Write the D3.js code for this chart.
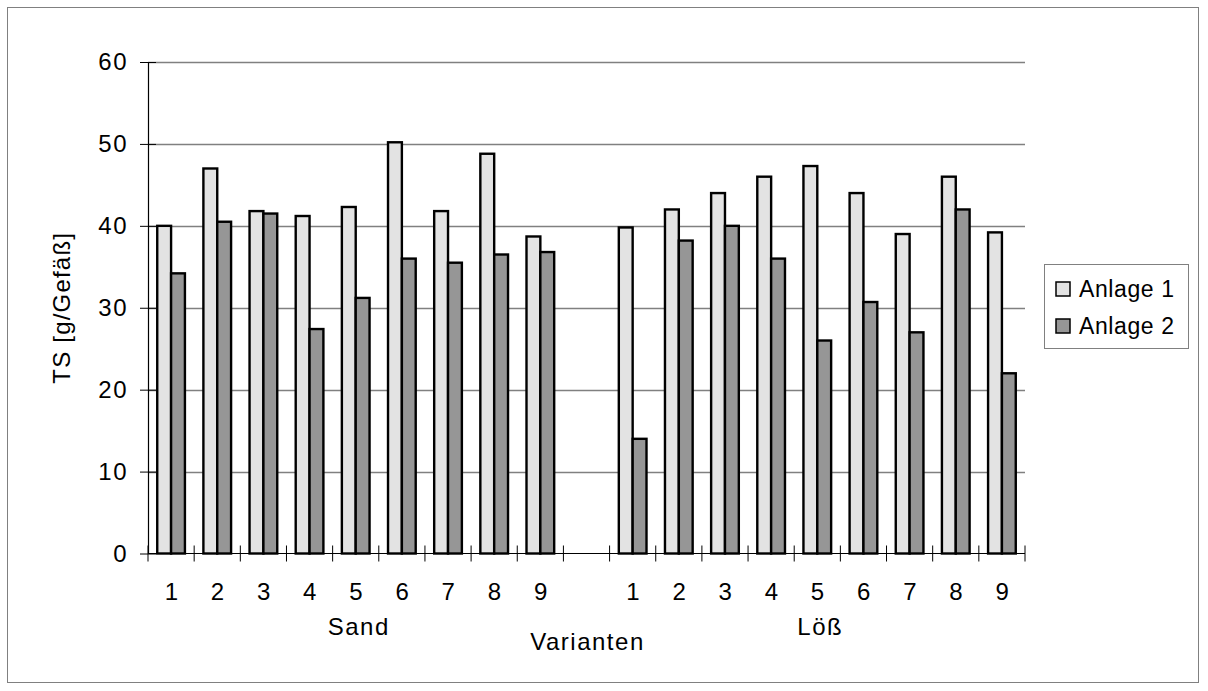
<!DOCTYPE html>
<html>
<head>
<meta charset="utf-8">
<script src="https://cdn.jsdelivr.net/npm/d3@7"></script>
<style>
  html, body { margin: 0; padding: 0; background: #fff; }
  svg text { font-family: "Liberation Sans", Arial, sans-serif; fill: #000; }
</style>
</head>
<body>
<svg id="chart" width="1208" height="691"></svg>
<script>
// Trockensubstanz je Gefäß, Varianten 1–9 auf Sand und Löß
const variants = ["1", "2", "3", "4", "5", "6", "7", "8", "9"];
const groups = ["Sand", "Löß"];
const seriesNames = ["Anlage 1", "Anlage 2"];
const sandAnlage1 = [40.0, 47.0, 41.8, 41.2, 42.3, 50.2, 41.8, 48.8, 38.7];
const sandAnlage2 = [34.2, 40.5, 41.5, 27.4, 31.2, 36.0, 35.5, 36.5, 36.8];
const loessAnlage1 = [39.8, 42.0, 44.0, 46.0, 47.3, 44.0, 39.0, 46.0, 39.2];
const loessAnlage2 = [14.0, 38.2, 40.0, 36.0, 26.0, 30.7, 27.0, 42.0, 22.0];
const yTicks = [0, 10, 20, 30, 40, 50, 60];
const yTitle = "TS [g/Gefäß]";
const xTitle = "Varianten";

const colors = { "Anlage 1": "#e3e3e3", "Anlage 2": "#969696" };
const FONT = 24;
const LS = "1.5px";

// Slot list: 9 Sand variants, an empty spacer slot, 9 Löß variants
const slots = [];
variants.forEach((v, i) => slots.push({ key: "S" + v, label: v, group: "Sand",
  values: [sandAnlage1[i], sandAnlage2[i]] }));
slots.push({ key: "gap", label: "", group: null, values: [] });
variants.forEach((v, i) => slots.push({ key: "L" + v, label: v, group: "Löß",
  values: [loessAnlage1[i], loessAnlage2[i]] }));

const svg = d3.select("#chart");
const plot = { left: 148, right: 1025, top: 62, bottom: 553.5 };

// Outer chart frame
svg.append("rect")
  .attr("x", 7.5).attr("y", 7.5).attr("width", 1191).attr("height", 675)
  .attr("fill", "#fff").attr("stroke", "#808080").attr("stroke-width", 1);

const x = d3.scaleBand().domain(slots.map(d => d.key))
  .range([plot.left, plot.right]).paddingInner(0).paddingOuter(0);
const xs = d3.scaleBand().domain(seriesNames)
  .range([0, x.bandwidth()]).paddingInner(0).paddingOuter(0.667);
const y = d3.scaleLinear().domain([0, 60]).range([plot.bottom, plot.top]);

// Horizontal gridlines
svg.append("g").selectAll("line").data(yTicks.filter(t => t > 0)).join("line")
  .attr("x1", plot.left).attr("x2", plot.right)
  .attr("y1", d => Math.round(y(d)) + 0.5).attr("y2", d => Math.round(y(d)) + 0.5)
  .attr("stroke", "#808080").attr("stroke-width", 1.3);

// Bars
const slotG = svg.append("g").selectAll("g").data(slots.filter(s => s.values.length)).join("g")
  .attr("transform", d => `translate(${x(d.key)},0)`);
slotG.selectAll("rect").data(d => d.values.map((v, i) => ({ name: seriesNames[i], value: v })))
  .join("rect")
  .attr("x", d => xs(d.name))
  .attr("width", xs.bandwidth())
  .attr("y", d => y(d.value))
  .attr("height", d => y(0) - y(d.value))
  .attr("fill", d => colors[d.name])
  .attr("stroke", "#000").attr("stroke-width", 2.4);

// Y axis (cross tick marks)
const yAxis = d3.axisLeft(y).tickValues(yTicks).tickSize(0).tickPadding(20);
const yg = svg.append("g").attr("transform", `translate(${plot.left},0)`).call(yAxis);
yg.select(".domain").attr("stroke", "#000").attr("stroke-width", 1.2);
yg.selectAll(".tick line").attr("x1", -8).attr("x2", 8).attr("stroke", "#000");
yg.selectAll(".tick text").attr("font-size", FONT).attr("font-family", null)
  .style("letter-spacing", LS);

// X axis: boundaries between slots carry cross tick marks
const boundaries = d3.range(slots.length + 1).map(i => plot.left + i * x.step());
const xg = svg.append("g");
xg.append("line").attr("x1", plot.left).attr("x2", plot.right)
  .attr("y1", plot.bottom).attr("y2", plot.bottom)
  .attr("stroke", "#000").attr("stroke-width", 1.2);
xg.selectAll("line.tk").data(boundaries).join("line").attr("class", "tk")
  .attr("x1", d => d).attr("x2", d => d)
  .attr("y1", plot.bottom - 8).attr("y2", plot.bottom + 8)
  .attr("stroke", "#000").attr("stroke-width", 1);
xg.selectAll("text.cat").data(slots.filter(s => s.label)).join("text").attr("class", "cat")
  .attr("x", d => x(d.key) + x.bandwidth() / 2 + 1)
  .attr("y", 592).attr("dy", "0.35em")
  .attr("text-anchor", "middle").attr("font-size", FONT)
  .style("letter-spacing", LS)
  .text(d => d.label);

// Group labels
groups.forEach(g => {
  const members = slots.filter(s => s.group === g);
  const cx = (x(members[0].key) + x(members[members.length - 1].key) + x.bandwidth()) / 2;
  svg.append("text").attr("x", cx + 3).attr("y", 627).attr("dy", "0.35em")
    .attr("text-anchor", "middle").attr("font-size", FONT).style("letter-spacing", LS)
    .text(g);
});

// Axis titles
svg.append("text").attr("x", (plot.left + plot.right) / 2 + 1).attr("y", 642).attr("dy", "0.35em")
  .attr("text-anchor", "middle").attr("font-size", FONT).style("letter-spacing", LS)
  .text(xTitle);
svg.append("text").attr("transform", `translate(62,${(plot.top + plot.bottom) / 2}) rotate(-90)`)
  .attr("dy", "0.35em").attr("text-anchor", "middle").attr("font-size", FONT)
  .style("letter-spacing", "1.2px").text(yTitle);

// Legend
const lg = svg.append("g");
lg.append("rect").attr("x", 1044.5).attr("y", 264.5).attr("width", 144).attr("height", 84)
  .attr("fill", "#fff").attr("stroke", "#808080").attr("stroke-width", 1);
seriesNames.forEach((n, i) => {
  const cy = 289 + i * 37;
  lg.append("rect").attr("x", 1056).attr("y", cy - 7).attr("width", 14).attr("height", 14)
    .attr("fill", colors[n]).attr("stroke", "#000").attr("stroke-width", 1.5);
  lg.append("text").attr("x", 1079).attr("y", cy).attr("dy", "0.35em")
    .attr("font-size", 23).style("letter-spacing", "0.6px").text(n);
});
</script>
</body>
</html>
